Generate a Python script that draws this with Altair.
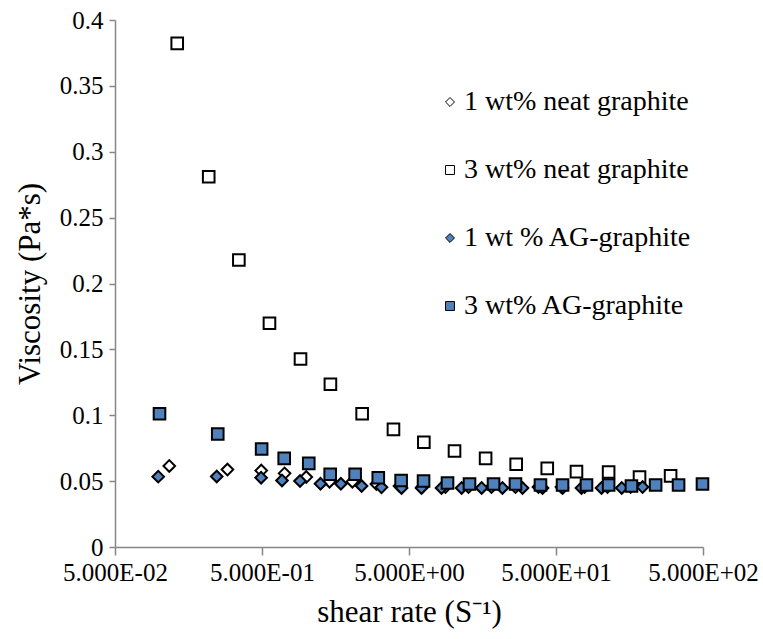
import altair as alt
import pandas as pd

# Series names, in drawing order (later series sit on top)
series_names = [
    "1 wt% neat graphite",
    "3 wt% neat graphite",
    "1 wt % AG-graphite",
    "3 wt% AG-graphite",
]

# 1 wt% neat graphite
neat1_rate = [0.117, 0.291, 0.494, 0.712, 1.00, 1.44, 2.06, 3.00, 4.31, 6.18,
              8.85, 12.7, 18.2, 26.5, 38.0, 54.5, 78.2, 112, 161]
neat1_visc = [0.0615, 0.0588, 0.0580, 0.0559, 0.0531, 0.0496, 0.0496, 0.0478, 0.0463, 0.0458,
              0.0455, 0.0455, 0.0455, 0.0455, 0.0455, 0.0455, 0.0455, 0.0455, 0.0455]

# 3 wt% neat graphite
neat3_rate = [0.1325, 0.217, 0.348, 0.562, 0.914, 1.46, 2.40, 3.92, 6.31,
              10.2, 16.6, 26.8, 43.6, 68.9, 114, 185, 301]
neat3_visc = [0.3823, 0.2810, 0.2178, 0.1698, 0.1427, 0.1235, 0.1011, 0.0893, 0.0795,
              0.0729, 0.0673, 0.0628, 0.0597, 0.0572, 0.0569, 0.0530, 0.0540]

# 1 wt % AG-graphite
ag1_rate = [0.0984, 0.246, 0.493, 0.684, 0.907, 1.25, 1.72, 2.38, 3.25, 4.45, 6.08,
            8.32, 11.4, 15.6, 21.6, 29.6, 40.5, 55.4, 74.5, 102, 140, 194]
ag1_visc = [0.0534, 0.0535, 0.0526, 0.0505, 0.0501, 0.0480, 0.0480, 0.0463, 0.0453, 0.0448, 0.0448,
            0.0448, 0.0448, 0.0448, 0.0448, 0.0448, 0.0448, 0.0448, 0.0448, 0.0448, 0.0448, 0.0455]

# 3 wt% AG-graphite
ag3_rate = [0.1004, 0.250, 0.497, 0.708, 1.04, 1.455, 2.15, 3.09, 4.42, 6.28, 9.14,
            12.9, 18.8, 26.5, 39.2, 55.4, 80.6, 114, 163, 238, 341, 496]
ag3_visc = [0.1011, 0.0858, 0.0744, 0.0673, 0.0635, 0.0552, 0.0552, 0.0526, 0.0505, 0.0501, 0.0486,
            0.0478, 0.0478, 0.0478, 0.0471, 0.0471, 0.0471, 0.0471, 0.0463, 0.0471, 0.0471, 0.0478]

x_ticks = [0.05, 0.5, 5, 50, 500]
y_ticks = [0, 0.05, 0.1, 0.15, 0.2, 0.25, 0.3, 0.35, 0.4]

frames = []
for name, rate, visc in [
    (series_names[0], neat1_rate, neat1_visc),
    (series_names[1], neat3_rate, neat3_visc),
    (series_names[2], ag1_rate, ag1_visc),
    (series_names[3], ag3_rate, ag3_visc),
]:
    frames.append(pd.DataFrame({"series": name, "rate": rate, "visc": visc}))
df = pd.concat(frames, ignore_index=True)
df["idx"] = range(len(df))

FONT = "Liberation Serif"
AXIS_GREY = "#878787"

# Scientific labels in the form 5.000E-02
exp_expr = "floor(log(datum.value)/LN10 + 1e-9)"
x_label_expr = (
    f"format(datum.value / pow(10, {exp_expr}), '.3f') + 'E' + "
    f"({exp_expr} < 0 ? '-' : '+') + (abs({exp_expr}) < 10 ? '0' : '') + abs({exp_expr})"
)

legend = alt.Legend(
    title=None,
    orient="none",
    legendX=321,
    legendY=68,
    labelFont=FONT,
    labelFontSize=28,
    labelColor="black",
    labelLimit=400,
    symbolSize=80,
    symbolStrokeWidth=1,
    symbolOpacity=1,
    rowPadding=40,
    labelOffset=0,
)

chart = (
    alt.Chart(df)
    .mark_point(filled=True, strokeWidth=2, opacity=1, size=135)
    .encode(
        x=alt.X(
            "rate:Q",
            scale=alt.Scale(type="log", domain=[0.05, 500], nice=False),
            axis=alt.Axis(
                values=x_ticks,
                labelExpr=x_label_expr,
                title="shear rate (S⁻¹)",
                grid=False,
                tickSize=8,
                labelPadding=5,
                labelFontSize=25,
                titleFontSize=31,
                titlePadding=12,
                labelFlush=False,
                labelOverlap=False,
            ),
        ),
        y=alt.Y(
            "visc:Q",
            scale=alt.Scale(domain=[0, 0.4], nice=False),
            axis=alt.Axis(
                values=y_ticks,
                format="~g",
                title="Viscosity (Pa*s)",
                grid=False,
                tickSize=6,
                labelPadding=6,
                labelFontSize=25,
                titleFontSize=31,
                titlePadding=13,
                labelOverlap=False,
            ),
        ),
        fill=alt.Fill(
            "series:N",
            scale=alt.Scale(domain=series_names, range=["white", "white", "#4F81BD", "#4F81BD"]),
            legend=legend,
        ),
        stroke=alt.Stroke(
            "series:N",
            scale=alt.Scale(domain=series_names, range=["black", "black", "black", "black"]),
            legend=legend,
        ),
        shape=alt.Shape(
            "series:N",
            scale=alt.Scale(domain=series_names, range=["diamond", "square", "diamond", "square"]),
            legend=legend,
        ),
        order=alt.Order("idx:Q"),
    )
    .properties(
        width=588,
        height=527,
        autosize=alt.AutoSizeParams(type="none"),
        padding={"left": 115, "top": 20, "right": 60, "bottom": 92},
    )
    .configure(background="white")
    .configure_view(stroke=None)
    .configure_axis(
        domainColor=AXIS_GREY,
        tickColor=AXIS_GREY,
        domainWidth=1.5,
        tickWidth=1.5,
        labelFont=FONT,
        titleFont=FONT,
        labelColor="black",
        titleColor="black",
        titleFontWeight="normal",
    )
)

chart.save("out.html", embed_options={"renderer": "svg", "actions": False})
